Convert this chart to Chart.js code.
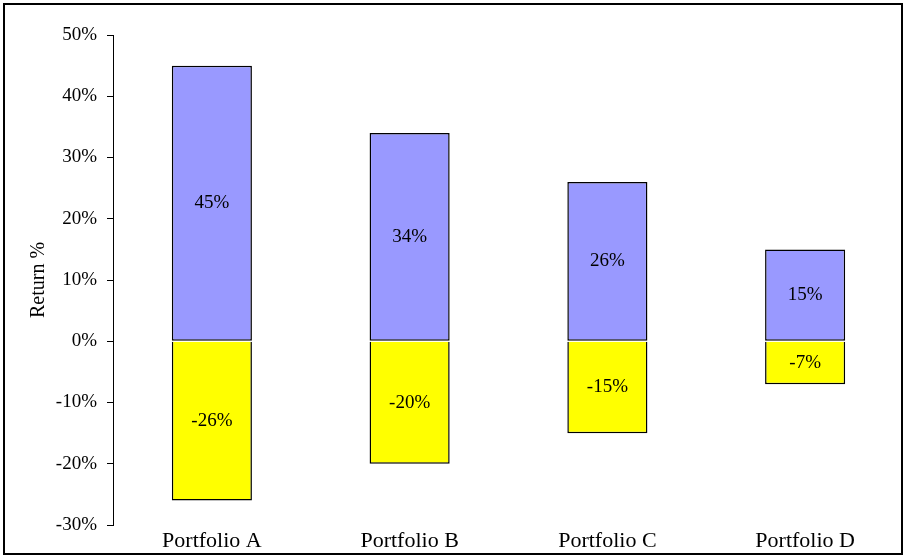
<!DOCTYPE html>
<html>
<head>
<meta charset="utf-8">
<script src="https://cdn.jsdelivr.net/npm/chart.js@4"></script>
<style>
html,body{margin:0;padding:0;background:#fff;}
#wrap{width:904px;height:556px;position:relative;}
</style>
</head>
<body>
<div id="wrap"><canvas id="c" width="904" height="556"></canvas></div>
<script>
const categories = ['Portfolio A', 'Portfolio B', 'Portfolio C', 'Portfolio D'];
const bestReturns = [45, 34, 26, 15];
const worstReturns = [-26, -20, -15, -7];
const yTicks = [50, 40, 30, 20, 10, 0, -10, -20, -30];

const serif = '"Liberation Serif", "Times New Roman", serif';

const framePlugin = {
  id: 'frame',
  afterDraw(chart) {
    const ctx = chart.ctx;
    ctx.save();
    ctx.strokeStyle = '#000';
    ctx.lineWidth = 2;
    ctx.strokeRect(4, 4, 898, 550);
    ctx.restore();
  }
};

const labelPlugin = {
  id: 'barLabels',
  afterDatasetsDraw(chart) {
    const ctx = chart.ctx;
    ctx.save();
    ctx.font = '19px ' + serif;
    ctx.fillStyle = '#000';
    ctx.textAlign = 'center';
    ctx.textBaseline = 'middle';
    chart.data.datasets.forEach((ds, di) => {
      const meta = chart.getDatasetMeta(di);
      meta.data.forEach((bar, i) => {
        const v = ds.data[i];
        const cy = (bar.y + bar.base) / 2;
        ctx.fillText(v + '%', bar.x, cy);
      });
    });
    ctx.restore();
  }
};

new Chart(document.getElementById('c'), {
  type: 'bar',
  data: {
    labels: categories,
    datasets: [
      { label: 'Best', data: bestReturns, backgroundColor: '#9999FF', borderColor: '#000', borderWidth: 1.5, borderSkipped: false },
      { label: 'Worst', data: worstReturns, backgroundColor: '#FFFF00', borderColor: '#000', borderWidth: 1.5, borderSkipped: 'start' }
    ]
  },
  options: {
    responsive: false,
    animation: false,
    devicePixelRatio: 1,
    layout: { padding: { top: 35, right: 0, bottom: 0, left: 0 } },
    plugins: { legend: { display: false }, tooltip: { enabled: false } },
    datasets: { bar: { categoryPercentage: 1, barPercentage: 0.405 } },
    scales: {
      x: {
        stacked: true,
        grid: { display: false, drawTicks: false },
        border: { display: false },
        ticks: { color: '#000', font: { family: serif, size: 22 }, padding: 3, maxRotation: 0 },
        afterFit(s) { s.height = 31; }
      },
      y: {
        stacked: true,
        min: -30, max: 50,
        afterBuildTicks(s) { s.ticks = yTicks.map(v => ({ value: v })); },
        grid: { drawOnChartArea: false, drawTicks: true, tickLength: 6, color: '#000', lineWidth: 1 },
        border: { display: true, color: '#000', width: 1 },
        ticks: { color: '#000', font: { family: serif, size: 19 }, padding: 10, callback: v => v + '%' },
        title: { display: true, text: 'Return %', color: '#000', font: { family: serif, size: 20 }, padding: { top: 27, bottom: 0 } },
        afterFit(s) { s.width = 113; }
      }
    }
  },
  plugins: [labelPlugin, framePlugin]
});
</script>
</body>
</html>
